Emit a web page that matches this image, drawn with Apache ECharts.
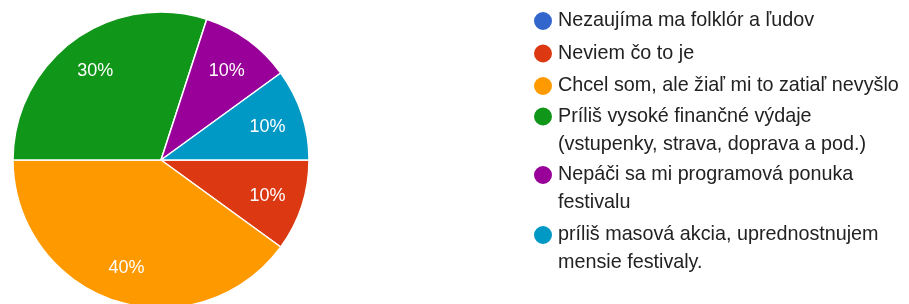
<!DOCTYPE html>
<html>
<head>
<meta charset="utf-8">
<script src="https://cdn.jsdelivr.net/npm/echarts@6/dist/echarts.min.js"></script>
<style>
html,body{margin:0;padding:0;background:#fff;}
#chart{width:909px;height:304px;}
</style>
</head>
<body>
<div id="chart"></div>
<script>
// answers (legend order)
var categories = [
  'Nezaujíma ma folklór a ľudov',
  'Neviem čo to je',
  'Chcel som, ale žiaľ mi to zatiaľ nevyšlo',
  'Príliš vysoké finančné výdaje (vstupenky, strava, doprava a pod.)',
  'Nepáči sa mi programová ponuka festivalu',
  'príliš masová akcia, uprednostnujem mensie festivaly.'
];
// how the legend wraps them
var legendLines = [
  ['Nezaujíma ma folklór a ľudov'],
  ['Neviem čo to je'],
  ['Chcel som, ale žiaľ mi to zatiaľ nevyšlo'],
  ['Príliš vysoké finančné výdaje', '(vstupenky, strava, doprava a pod.)'],
  ['Nepáči sa mi programová ponuka', 'festivalu'],
  ['príliš masová akcia, uprednostnujem', 'mensie festivaly.']
];
var counts = [0, 1, 4, 3, 1, 1];
var colors = ['#3366cc', '#dc3912', '#ff9900', '#109618', '#990099', '#0099c6'];

var FONT = 'Arial, "Liberation Sans", sans-serif';
var myChart = echarts.init(document.getElementById('chart'));

// one legend per entry so the dot sits on the first text line
var LH = 28;
var iconCenters = [21, 53.5, 86, 116.5, 175, 235];
var legends = [];
categories.forEach(function (name, i) {
  var n = legendLines[i].length;
  var h = Math.max(20, (2 * n - 1) * LH);
  var pad = new Array(n).join('\n'); // blank lines on top keep line 1 centred on the dot
  legends.push({
    data: [name],
    orient: 'vertical',
    left: 532,
    top: iconCenters[i] - h / 2,
    padding: 0,
    icon: 'circle',
    itemWidth: 20,
    itemHeight: 20,
    selectedMode: false,
    formatter: function () { return pad + legendLines[i].join('\n'); },
    textStyle: {
      fontFamily: FONT,
      fontSize: 19.75,
      color: '#222',
      lineHeight: LH
    }
  });
});

var pieData = categories.map(function (name, i) {
  return { name: name, value: counts[i], itemStyle: { color: colors[i] } };
});
var labelData = categories.map(function (name, i) {
  return { name: name, value: counts[i] };
});

myChart.setOption({
  animation: false,
  legend: legends,
  series: [
    {
      type: 'pie',
      center: [161, 160],
      radius: 148,
      startAngle: 0,
      clockwise: true,
      silent: true,
      label: { show: false },
      labelLine: { show: false },
      itemStyle: { borderColor: '#fff', borderWidth: 1.5 },
      emphasis: { disabled: true },
      data: pieData
    },
    {
      // label ring only
      type: 'pie',
      center: [161, 160],
      radius: [70, 148],
      startAngle: 0,
      clockwise: true,
      silent: true,
      itemStyle: { color: 'rgba(0,0,0,0)', borderWidth: 0 },
      emphasis: { disabled: true },
      label: {
        show: true,
        position: 'inside',
        color: '#fff',
        fontFamily: FONT,
        fontSize: 18,
        formatter: function (p) { return p.value ? Math.round(p.percent) + '%' : ''; }
      },
      labelLayout: { dy: 1.5 },
      labelLine: { show: false },
      data: labelData
    }
  ]
});
</script>
</body>
</html>
